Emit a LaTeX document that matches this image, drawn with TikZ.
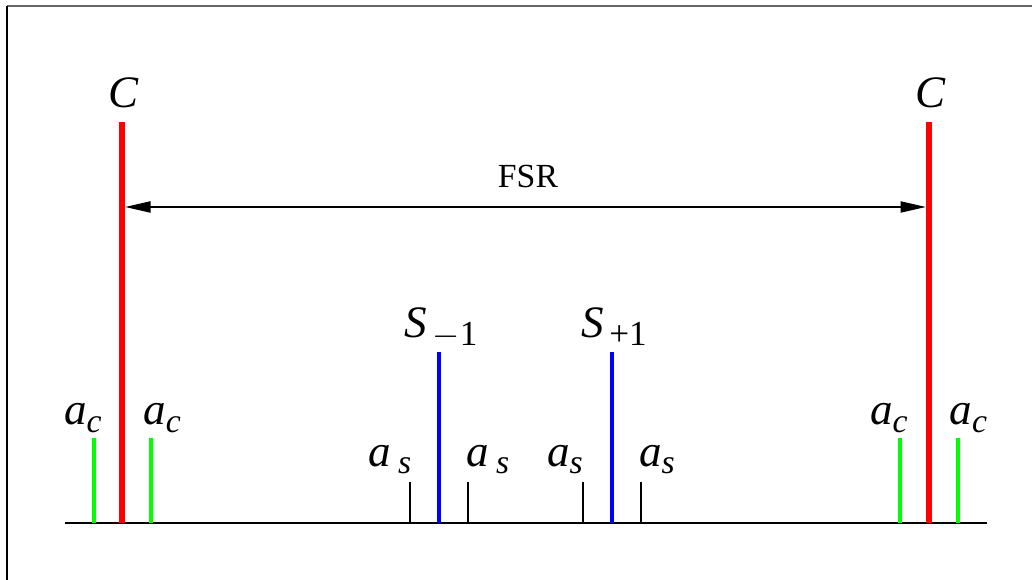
\documentclass[tikz,border=0pt]{standalone}
\usepackage{fontspec}
\setmainfont{Liberation Serif}
\usetikzlibrary{arrows.meta}
\newcommand{\lowtxt}[2][24]{\raisebox{-5pt}{\fontsize{#1}{#1}\selectfont #2}}
\tikzset{
	lbl/.style={anchor=base, inner sep=0pt, font=\fontsize{32}{36}\selectfont},
	carrier/.style={red, line width=4.3pt},
	side/.style={blue, line width=2.8pt},
	band/.style={green, line width=2.3pt},
	tick/.style={black, line width=1.4pt}
}
\begin{document}
\begin{tikzpicture}[>={Triangle[length=18pt,width=8pt]}, thick]
	
	\useasboundingbox (0,0) rectangle (25.8,14.5);
	\draw[black!60, line width=1.5pt] (0.175,14.35) -- (25.8,14.35);
	\draw[line width=1pt] (0.175,14.35) -- (0.175,0);
	
	% base line
	\coordinate (b0) at (1.625,1.425);
	\coordinate (b1) at (24.675,1.425);
	\draw[line width=1pt] (b0) -- (b1);
	
	% carriers
	\foreach \x/\n in {3.05/cl, 23.225/cr}{
		\draw[carrier] (\x,1.425) -- (\x,11.45);
		\node[lbl] (\n) at (\x+0.05,11.82) {\textit{C}};
	}
	
	% FSR
	\coordinate (fl) at (3.13,9.325);
	\coordinate (fr) at (23.145,9.325);
	\draw[<->, line width=0.8pt] (fl) -- (fr);
	\node[anchor=base, inner sep=0pt, font=\fontsize{24}{28}\selectfont] (fsr) at (13.2,9.82) {FSR};
	
	% sidebands
	\foreach \x/\n/\s in {10.975/sm/$-$1, 15.3/sp/+1}{
		\draw[side] (\x,1.425) -- (\x,5.7);
		\node[lbl] (\n) at (\x+0.05,6.05) {\textit{S}\hspace{4pt}\lowtxt[25]{\s}};
	}
	
	% a_s
	\foreach \x/\d/\n in {10.25/-0.5/as1, 11.7/0.5/as2}{
		\draw[tick] (\x,1.425) -- (\x,2.45);
		\node[lbl] (\n) at (\x+\d,2.83) {\textit{a}\hspace{5pt}\lowtxt{\textit{s}}};
	}
	\foreach \x/\d/\n in {14.575/-0.45/as3, 16.025/0.4/as4}{
		\draw[tick] (\x,1.425) -- (\x,2.45);
		\node[lbl] (\n) at (\x+\d,2.83) {\textit{a}\lowtxt{\textit{s}}};
	}
	
	% a_c
	\foreach \x/\d/\n in {2.35/-0.28/ac1, 3.775/0.28/ac2, 22.5/-0.28/ac3, 23.95/0.26/ac4}{
		\draw[band] (\x,1.425) -- (\x,3.55);
		\node[lbl] (\n) at (\x+\d,3.875) {\textit{a}\lowtxt{\textit{c}}};
	}
	
\end{tikzpicture}
\end{document}
